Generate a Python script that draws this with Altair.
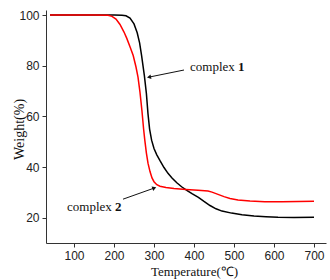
import altair as alt
import pandas as pd

# complex 1 (black)
t1 = [40, 100, 150, 200, 220, 230, 240, 250, 258, 264, 269, 276, 281, 285, 289, 294, 300, 307, 315,
      325, 335, 345, 357, 369, 382, 396, 411, 425, 440, 455, 470, 494, 520, 550, 580, 610, 650, 700]
w1 = [100, 100, 100, 100, 99.95, 99.7, 98.8, 96.5, 93, 89, 84, 76, 69, 61, 55, 50.6, 47.3, 44.8, 42.5,
      39.8, 37.5, 35.7, 33.8, 32.2, 30.8, 29.4, 28.0, 26.4, 24.8, 23.5, 22.6, 21.8, 21.2, 20.7, 20.4, 20.2, 20.1, 20.2]

# complex 2 (red)
t2 = [40, 100, 150, 185, 195, 205, 215, 225, 232, 240, 248, 255, 260, 265, 270, 274, 277, 281, 285, 290,
      295, 300, 307, 315, 330, 350, 380, 410, 435, 445, 460, 475, 490, 510, 540, 577, 620, 660, 700]
w2 = [100, 100, 100, 99.9, 99.5, 98.4, 96.3, 93.3, 90.8, 87.5, 84, 79.5, 75.5, 69.5, 62, 55, 50.6, 45.5, 41.5, 38.2,
      35.7, 34.2, 33.0, 32.4, 31.9, 31.5, 31.1, 30.8, 30.5, 30.1, 29.2, 28.3, 27.6, 27.0, 26.6, 26.3, 26.3, 26.4, 26.5]

series = ["complex 1", "complex 2"]
colors = ["#000000", "#ff0000"]

x_major = [100, 200, 300, 400, 500, 600, 700]
y_ticks = list(range(20, 101, 10))

ann_words = ["complex", "complex"]
ann_nums = ["1", "2"]
ann_word_T = [390, 82.5]
ann_num_T = [510, 202.5]
ann_W = [79.6, 24.2]

arrow_tail_T = [375, 222.5]
arrow_tail_W = [78.3, 27.3]
arrow_tip_T = [287.5, 300.75]
arrow_tip_W = [75.5, 31.7]
arrow_angle = [258.7, 69.3]

df = pd.DataFrame({
    "T": t1 + t2,
    "W": w1 + w2,
    "s": [series[0]] * len(t1) + [series[1]] * len(t2),
})

xs = alt.Scale(domain=[30, 730], nice=False, zero=False)
ys = alt.Scale(domain=[10, 102], nice=False, zero=False)

lines = alt.Chart(df).mark_line(strokeWidth=1.5).encode(
    x=alt.X("T:Q", scale=xs, axis=alt.Axis(
        title="Temperature(℃)", values=x_major,
        labelOverlap=False, labelFlush=False,
        tickSize=4,
        grid=False, labelFont="Liberation Sans", labelFontSize=12, labelColor="#222",
        labelPadding=3, titleFont="Liberation Serif", titleFontSize=13, titleFontWeight="normal",
        titleColor="#111", titleX=148, titleY=28, titleBaseline="middle",
        domainColor="#333", tickColor="#333")),
    y=alt.Y("W:Q", scale=ys, axis=alt.Axis(
        title="Weight(%)", values=y_ticks,
        labelExpr="datum.value % 20 === 0 ? datum.label : ''",
        labelOverlap=False, labelFlush=False,
        tickSize={"condition": {"test": "datum.value % 20 === 0", "value": 4}, "value": 2.5},
        grid=False, labelFont="Liberation Sans", labelFontSize=12, labelColor="#222",
        labelPadding=3, titleFont="Liberation Serif", titleFontSize=14, titleFontWeight="normal",
        titleColor="#111", titleX=-27, titleY=119, titleBaseline="middle", titleAngle=270,
        domainColor="#333", tickColor="#333")),
    color=alt.Color("s:N", scale=alt.Scale(domain=series, range=colors), legend=None),
    order="T:Q",
)

words_df = pd.DataFrame({"T": ann_word_T, "W": ann_W, "txt": ann_words})
nums_df = pd.DataFrame({"T": ann_num_T, "W": ann_W, "txt": ann_nums})

words = alt.Chart(words_df).mark_text(font="Liberation Serif", fontSize=13, align="left",
                                      baseline="middle", color="#111").encode(
    x=alt.X("T:Q", scale=xs), y=alt.Y("W:Q", scale=ys), text="txt:N")
nums = alt.Chart(nums_df).mark_text(font="Liberation Serif", fontSize=13, fontWeight="bold", align="left",
                                    baseline="middle", color="#111").encode(
    x=alt.X("T:Q", scale=xs), y=alt.Y("W:Q", scale=ys), text="txt:N")

arr = pd.DataFrame({"T": arrow_tip_T, "W": arrow_tip_W, "T0": arrow_tail_T, "W0": arrow_tail_W,
                    "ang": arrow_angle})
shafts = alt.Chart(arr).mark_rule(color="#111", strokeWidth=1).encode(
    x=alt.X("T:Q", scale=xs), y=alt.Y("W:Q", scale=ys), x2="T0:Q", y2="W0:Q")
heads = alt.Chart(arr).mark_point(shape="triangle-up", filled=True, color="#111", size=22, opacity=1).encode(
    x=alt.X("T:Q", scale=xs), y=alt.Y("W:Q", scale=ys),
    angle=alt.Angle("ang:Q", scale=None))

chart = alt.layer(lines, shafts, heads, words, nums).properties(
    width=280, height=233,
    autosize=alt.AutoSizeParams(type="none"),
    padding={"left": 46, "top": 10, "right": 4, "bottom": 37},
).configure_view(stroke=None)

chart.save("out.html", embed_options={"renderer": "svg", "actions": False})
